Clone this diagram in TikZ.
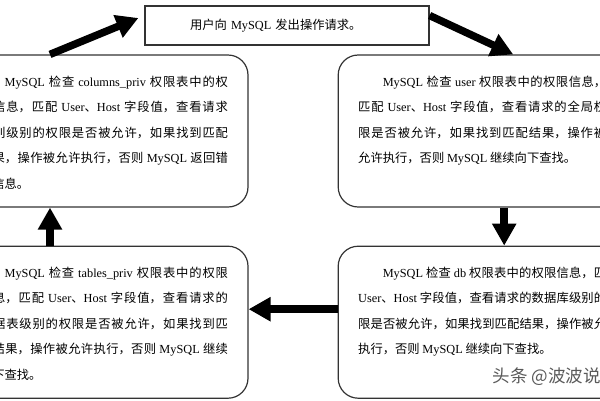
\documentclass[tikz,border=0pt]{standalone}
\usepackage{fontspec}
\setmainfont{Noto Sans CJK SC}
\newfontfamily\latinfont{Liberation Serif}
\newcommand{\en}[1]{{\latinfont #1}}
\XeTeXlinebreaklocale "zh"
\XeTeXlinebreakskip=0pt plus 1pt
\setlength{\parindent}{0pt}
\tolerance=10000
\hbadness=10000
\usetikzlibrary{arrows.meta, positioning}
\tikzset{
    flow/.style={x=1pt, y=-1pt, font=\fontsize{12.3}{25.5}\selectfont},
    panel/.style={draw=black!80, line width=1.2pt, rounded corners=20pt, text width=248pt,
        align=justify, inner sep=20pt, text height=11pt, text depth=101pt},
    topbox/.style={draw=black!80, line width=1.2pt, minimum height=39pt, text width=194pt,
        inner xsep=45pt, inner ysep=0pt, align=left},
    bigarrow/.style={-{Triangle[length=22pt, width=23pt]}, line width=7.5pt},
    watermark/.style={font=\fontsize{17.5}{17.5}\selectfont, text=black!65, anchor=west},
}

\begin{document}
\begin{tikzpicture}[flow]
    \useasboundingbox (0,0) rectangle (600,400);
    \clip (0,0) rectangle (600,400);

    \node[topbox] (request) at (287,25.5) {用户向 \en{MySQL} 发出操作请求。};
    \node[panel] (columns) at (104,131) {\hspace*{2em}\en{MySQL} 检查 \en{columns\_priv} 权限表中的权\linebreak
        限信息，匹配 \en{User}、\en{Host} 字段值，查看请求\linebreak
        的列级别的权限是否被允许，如果找到匹配\linebreak
        结果，操作被允许执行，否则 \en{MySQL} 返回错\linebreak
        误信息。};
    \node[panel, right=89pt of columns] (user) {\hspace*{2em}\en{MySQL} 检查 \en{user} 权限表中的权限信息，\linebreak
        匹配 \en{User}、\en{Host} 字段值，查看请求的全局权\linebreak
        限是否被允许，如果找到匹配结果，操作被\linebreak
        允许执行，否则 \en{MySQL} 继续向下查找。};
    \node[panel, below=38pt of user] (db) {\hspace*{2em}\en{MySQL} 检查 \en{db} 权限表中的权限信息，匹\linebreak
        \en{User}、\en{Host} 字段值，查看请求的数据库级别的\linebreak
        限是否被允许，如果找到匹配结果，操作被允\linebreak
        执行，否则 \en{MySQL} 继续向下查找。};
    \node[panel, below=38pt of columns] (tables) {\hspace*{2em}\en{MySQL} 检查 \en{tables\_priv} 权限表中的权限\linebreak
        信息，匹配 \en{User}、\en{Host} 字段值，查看请求的\linebreak
        数据表级别的权限是否被允许，如果找到匹\linebreak
        配结果，操作被允许执行，否则 \en{MySQL} 继续\linebreak
        向下查找。};
    \node[watermark] (credit) at (489,377) {头条 @波波说};

    \draw[bigarrow] ([xshift=-54pt]columns.north) -- ([xshift=-6pt, yshift=7.5pt]request.west);
    \draw[bigarrow] ([yshift=10pt]request.east) -- ([xshift=31pt]user.north);
    \draw[bigarrow] ([xshift=22pt]user.south) -- ([xshift=22pt]db.north);
    \draw[bigarrow] ([yshift=13pt]db.west) -- ([yshift=13pt]tables.east);
    \draw[bigarrow] ([xshift=-54pt]tables.north) -- ([xshift=-54pt]columns.south);
\end{tikzpicture}
\end{document}
